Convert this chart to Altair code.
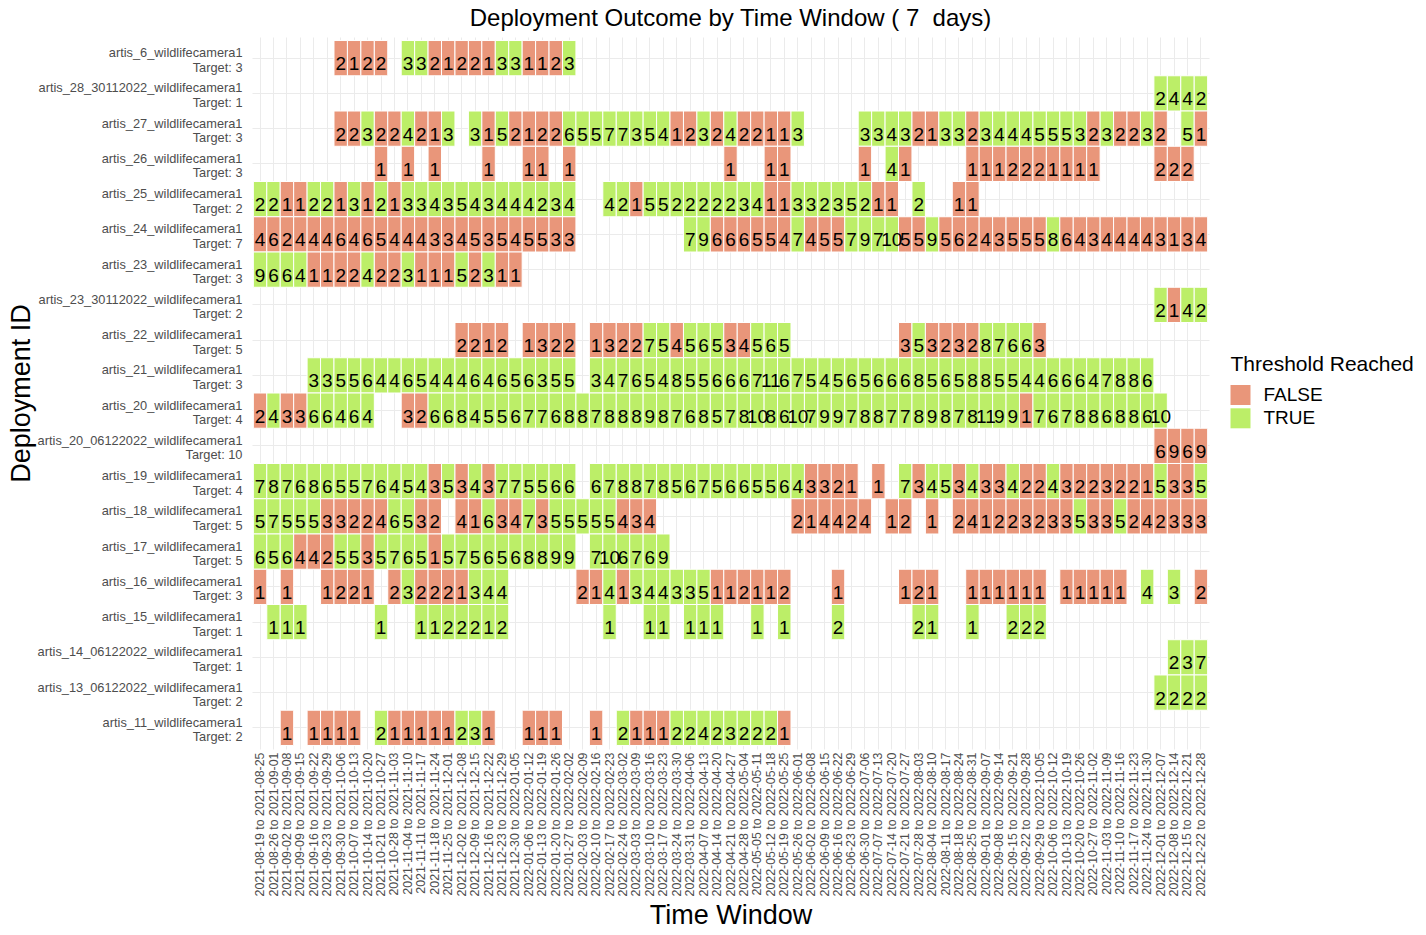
import altair as alt
import pandas as pd
from datetime import date, timedelta

FONT = "Liberation Sans"

# ---- time windows (7-day windows) ----
N_WINDOWS = 71
FIRST_WINDOW_START = date(2021, 8, 19)
window_labels = []
for i in range(N_WINDOWS):
    s = FIRST_WINDOW_START + timedelta(days=7 * i)
    e = s + timedelta(days=6)
    window_labels.append(f"{s.isoformat()} to {e.isoformat()}")

# ---- deployments (top to bottom) and their targets ----
deployments = [
    "artis_6_wildlifecamera1",
    "artis_28_30112022_wildlifecamera1",
    "artis_27_wildlifecamera1",
    "artis_26_wildlifecamera1",
    "artis_25_wildlifecamera1",
    "artis_24_wildlifecamera1",
    "artis_23_wildlifecamera1",
    "artis_23_30112022_wildlifecamera1",
    "artis_22_wildlifecamera1",
    "artis_21_wildlifecamera1",
    "artis_20_wildlifecamera1",
    "artis_20_06122022_wildlifecamera1",
    "artis_19_wildlifecamera1",
    "artis_18_wildlifecamera1",
    "artis_17_wildlifecamera1",
    "artis_16_wildlifecamera1",
    "artis_15_wildlifecamera1",
    "artis_14_06122022_wildlifecamera1",
    "artis_13_06122022_wildlifecamera1",
    "artis_11_wildlifecamera1",
]
targets = [3, 1, 3, 3, 2, 7, 3, 2, 5, 3, 4, 10, 4, 5, 5, 3, 1, 1, 2, 2]

# ---- counts per deployment: (first window index, consecutive counts) ----
counts = {
    "artis_6_wildlifecamera1": [
        (6, [2, 1, 2, 2]),
        (11, [3, 3, 2, 1, 2, 2, 1, 3, 3, 1, 1, 2, 3]),
    ],
    "artis_28_30112022_wildlifecamera1": [(67, [2, 4, 4, 2])],
    "artis_27_wildlifecamera1": [
        (6, [2, 2, 3, 2, 2, 4, 2, 1, 3]),
        (16, [3, 1, 5, 2, 1, 2, 2, 6, 5, 5, 7, 7, 3, 5, 4, 1, 2, 3, 2, 4, 2, 2, 1, 1, 3]),
        (45, [3, 3, 4, 3, 2, 1, 3, 3, 2, 3, 4, 4, 4, 5, 5, 5, 3, 2, 3, 2, 2, 3, 2]),
        (69, [5, 1]),
    ],
    "artis_26_wildlifecamera1": [
        (9, [1]), (11, [1]), (13, [1]), (17, [1]), (20, [1, 1]), (23, [1]),
        (35, [1]), (38, [1, 1]), (45, [1]), (47, [4, 1]),
        (53, [1, 1, 1, 2, 2, 2, 1, 1, 1, 1]), (67, [2, 2, 2]),
    ],
    "artis_25_wildlifecamera1": [
        (0, [2, 2, 1, 1, 2, 2, 1, 3, 1, 2, 1, 3, 3, 4, 3, 5, 4, 3, 4, 4, 4, 2, 3, 4]),
        (26, [4, 2, 1, 5, 5, 2, 2, 2, 2, 2, 3, 4, 1, 1, 3, 3, 2, 3, 5, 2, 1, 1]),
        (49, [2]), (52, [1, 1]),
    ],
    "artis_24_wildlifecamera1": [
        (0, [4, 6, 2, 4, 4, 4, 6, 4, 6, 5, 4, 4, 4, 3, 3, 4, 5, 3, 5, 4, 5, 5, 3, 3]),
        (32, [7, 9, 6, 6, 6, 5, 5, 4, 7, 4, 5, 5, 7, 9, 7, 10, 5, 5, 9, 5, 6, 2, 4, 3, 5,
              5, 5, 8, 6, 4, 3, 4, 4, 4, 4, 3, 1, 3, 4]),
    ],
    "artis_23_wildlifecamera1": [
        (0, [9, 6, 6, 4, 1, 1, 2, 2, 4, 2, 2, 3, 1, 1, 1, 5, 2, 3, 1, 1]),
    ],
    "artis_23_30112022_wildlifecamera1": [(67, [2, 1, 4, 2])],
    "artis_22_wildlifecamera1": [
        (15, [2, 2, 1, 2]),
        (20, [1, 3, 2, 2]),
        (25, [1, 3, 2, 2, 7, 5, 4, 5, 6, 5, 3, 4, 5, 6, 5]),
        (48, [3, 5, 3, 2, 3, 2, 8, 7, 6, 6, 3]),
    ],
    "artis_21_wildlifecamera1": [
        (4, [3, 3, 5, 5, 6, 4, 4, 6, 5, 4, 4, 4, 6, 4, 6, 5, 6, 3, 5, 5]),
        (25, [3, 4, 7, 6, 5, 4, 8, 5, 5, 6, 6, 6, 7, 11, 6, 7, 5, 4, 5, 6, 5, 6, 6, 6, 8,
              5, 6, 5, 8, 8, 5, 5, 4, 4, 6, 6, 6, 4, 7, 8, 8, 6]),
    ],
    "artis_20_wildlifecamera1": [
        (0, [2, 4, 3, 3, 6, 6, 4, 6, 4]),
        (11, [3, 2, 6, 6, 8, 4, 5, 5, 6, 7, 7, 6, 8, 8, 7, 8, 8, 8, 9, 8, 7, 6, 8, 5,
              7, 8, 10, 8, 6, 10, 7, 9, 9, 7, 8, 8, 7, 7, 8, 9, 8, 7, 8, 11, 9, 9, 1,
              7, 6, 7, 8, 8, 6, 8, 8, 6, 10]),
    ],
    "artis_20_06122022_wildlifecamera1": [(67, [6, 9, 6, 9])],
    "artis_19_wildlifecamera1": [
        (0, [7, 8, 7, 6, 8, 6, 5, 5, 7, 6, 4, 5, 4, 3, 5, 3, 4, 3, 7, 7, 5, 5, 6, 6]),
        (25, [6, 7, 8, 8, 7, 8, 5, 6, 7, 5, 6, 6, 5, 5, 6, 4, 3, 3, 2, 1]),
        (46, [1]),
        (48, [7, 3, 4, 5, 3, 4, 3, 3, 4, 2, 2, 4, 3, 2, 2, 3, 2, 2, 1, 5, 3, 3, 5]),
    ],
    "artis_18_wildlifecamera1": [
        (0, [5, 7, 5, 5, 5, 3, 3, 2, 2, 4, 6, 5, 3, 2]),
        (15, [4, 1, 6, 3, 4, 7, 3, 5, 5, 5, 5, 5, 4, 3, 4]),
        (40, [2, 1, 4, 4, 2, 4]),
        (47, [1, 2]),
        (50, [1]),
        (52, [2, 4, 1, 2, 2, 3, 2, 3, 3, 5, 3, 3, 5, 2, 4, 2, 3, 3, 3]),
    ],
    "artis_17_wildlifecamera1": [
        (0, [6, 5, 6, 4, 4, 2, 5, 5, 3, 5, 7, 6, 5, 1, 5, 7, 5, 6, 5, 6, 8, 8, 9, 9]),
        (25, [7, 10, 6, 7, 6, 9]),
    ],
    "artis_16_wildlifecamera1": [
        (0, [1]), (2, [1]), (5, [1, 2, 2, 1]),
        (10, [2, 3, 2, 2, 2, 1, 3, 4, 4]),
        (24, [2, 1, 4, 1, 3, 4, 4, 3, 3, 5, 1, 1, 2, 1, 1, 2]),
        (43, [1]), (48, [1, 2, 1]), (53, [1, 1, 1, 1, 1, 1]),
        (60, [1, 1, 1, 1, 1]), (66, [4]), (68, [3]), (70, [2]),
    ],
    "artis_15_wildlifecamera1": [
        (1, [1, 1, 1]), (9, [1]), (12, [1, 1, 2, 2, 2, 1, 2]),
        (26, [1]), (29, [1, 1]), (32, [1, 1, 1]), (37, [1]), (39, [1]),
        (43, [2]), (49, [2, 1]), (53, [1]), (56, [2, 2, 2]),
    ],
    "artis_14_06122022_wildlifecamera1": [(68, [2, 3, 7])],
    "artis_13_06122022_wildlifecamera1": [(67, [2, 2, 2, 2])],
    "artis_11_wildlifecamera1": [
        (2, [1]), (4, [1, 1, 1, 1]),
        (9, [2, 1, 1, 1, 1, 1, 2, 3, 1]),
        (20, [1, 1, 1]), (25, [1]),
        (27, [2, 1, 1, 1, 2, 2, 4, 2, 3, 2, 2, 2, 1]),
    ],
}

legend_domain = ["FALSE", "TRUE"]
legend_colors = ["#E9967A", "#BCEE68"]

# ---- build table ----
deploy_labels = [f"{d}|Target: {t}" for d, t in zip(deployments, targets)]
records = []
for name, target, label in zip(deployments, targets, deploy_labels):
    for start, vals in counts[name]:
        for k, v in enumerate(vals):
            records.append({
                "deployment": label,
                "window": window_labels[start + k],
                "count": v,
                "reached": "TRUE" if v >= target else "FALSE",
            })
df = pd.DataFrame(records)

PLOT_W, PLOT_H = 957, 712
PAD_L, PAD_T = 252, 37

x_enc = alt.X(
    "window:N",
    sort=window_labels,
    scale=alt.Scale(domain=window_labels, paddingInner=0, paddingOuter=0.1),
    axis=alt.Axis(
        title="Time Window", labelAngle=270, labelFontSize=12.4, labelColor="#4D4D4D",
        labelFont=FONT, labelPadding=3, labelOverlap=False, labelLimit=0, ticks=False,
        domain=False, grid=True, gridColor="#EBEBEB", gridWidth=1, bandPosition=0.5,
        zindex=0,
        titleFont=FONT, titleFontSize=27, titleFontWeight="normal", titleColor="black",
        titleY=174, titleBaseline="alphabetic",
    ),
)
y_enc = alt.Y(
    "deployment:N",
    sort=deploy_labels,
    scale=alt.Scale(domain=deploy_labels, paddingInner=0, paddingOuter=0.1),
    axis=alt.Axis(
        title="Deployment ID", labelExpr="split(datum.label, '|')", labelFontSize=12.8,
        labelColor="#4D4D4D", labelFont=FONT, labelLineHeight=14.5, labelPadding=10,
        labelOffset=-5, labelOverlap=False, labelLimit=0, ticks=False, domain=False,
        grid=True, gridColor="#EBEBEB", gridWidth=1, bandPosition=0.5, zindex=0,
        titleFont=FONT, titleFontSize=27, titleFontWeight="normal", titleColor="black",
        titleAngle=270, titleX=-223, titleY=PLOT_H / 2, titleBaseline="alphabetic",
        titleAlign="center",
    ),
)

base = alt.Chart(df).encode(x=x_enc, y=y_enc)

tiles = base.mark_rect(stroke="white", strokeWidth=1).encode(
    color=alt.Color(
        "reached:N",
        scale=alt.Scale(domain=legend_domain, range=legend_colors),
        legend=alt.Legend(
            title="Threshold Reached", orient="none", legendX=978.5, legendY=317,
            titleFontSize=21, titleFont=FONT, titleFontWeight="normal", titleColor="black",
            titleLimit=400, labelFontSize=19, labelFont=FONT, labelColor="black",
            symbolType="square", symbolSize=400, symbolStrokeWidth=0, rowPadding=3.3,
            labelOffset=13, titlePadding=10, padding=0, symbolOpacity=1,
        ),
    )
)

labels = base.mark_text(fontSize=19, font=FONT, color="black", dy=6,
                        baseline="middle", align="center").encode(text="count:Q")

chart = (tiles + labels).properties(
    width=PLOT_W,
    height=PLOT_H,
    autosize="none",
    padding={"left": PAD_L, "top": PAD_T, "right": 1426 - PAD_L - PLOT_W,
             "bottom": 935 - PAD_T - PLOT_H},
    background="white",
    title=alt.TitleParams(
        text="Deployment Outcome by Time Window ( 7 \u00a0days)", fontSize=24, font=FONT,
        fontWeight="normal", color="black", anchor="middle", frame="group",
        baseline="alphabetic", offset=10, dy=23,
    ),
).configure_view(stroke="transparent")

chart.save("out.html", embed_options={"renderer": "svg", "actions": False})
